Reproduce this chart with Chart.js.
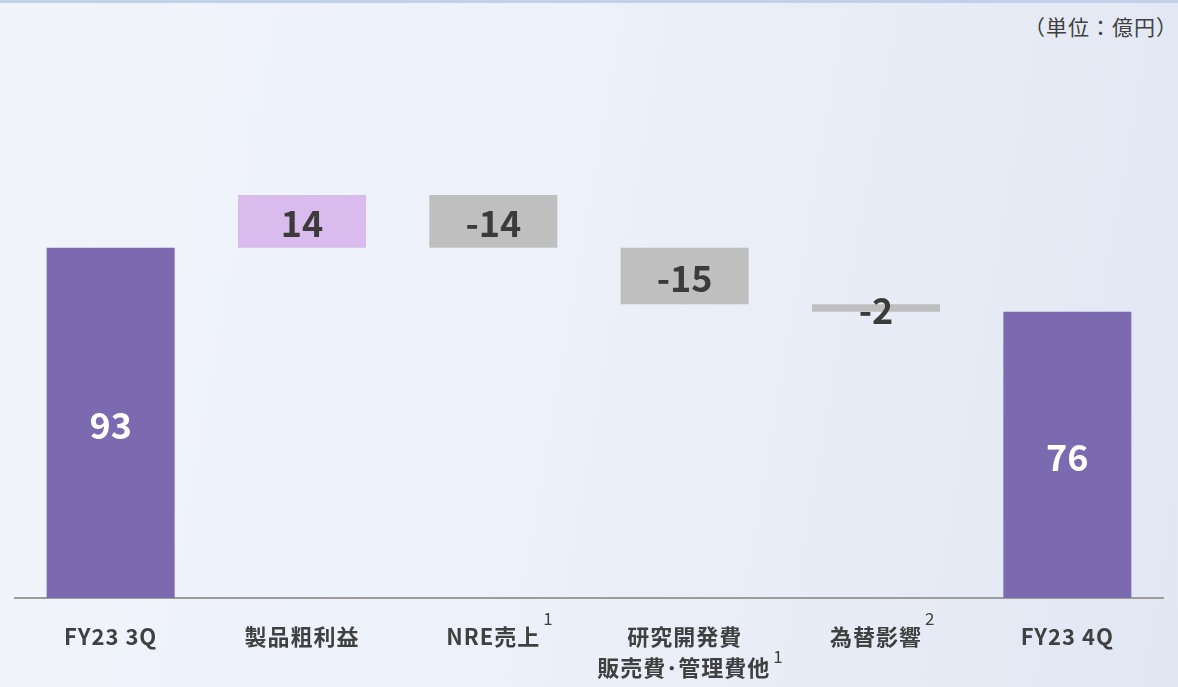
<!DOCTYPE html>
<html>
<head>
  <meta charset="utf-8">
  <title>営業利益 増減要因</title>
  <script src="https://cdn.jsdelivr.net/npm/chart.js"></script>
  <style>
    html, body { margin: 0; padding: 0; }
    body {
      width: 1178px; height: 687px; overflow: hidden; position: relative;
      background: linear-gradient(100deg, #f1f4fb 0%, #edf1f9 45%, #e1e7f3 100%);
      font-family: "Noto Sans CJK JP", "Noto Sans", sans-serif;
    }
    #topline { position: absolute; left: 0; top: 0; width: 100%; height: 3px; background: #c3d0ea; }
    #unit { position: absolute; right: 0px; top: 11px; font-size: 21px; color: #404040; letter-spacing: 1px; }
    #wrap { position: absolute; left: 0; top: 0; width: 1178px; height: 687px; }
  </style>
</head>
<body>
  <div id="topline"></div>
  <div id="unit">（単位：億円）</div>
  <div id="wrap"><canvas id="myChart"></canvas></div>
  <script>
    // data
    const categories = ['FY23 3Q', '製品粗利益', 'NRE売上', '研究開発費', '為替影響', 'FY23 4Q'];
    const secondLine = ['', '', '', '販売費･管理費他', '', ''];
    const footnotes = ['', '', '1', '', '2', ''];
    const footnotes2 = ['', '', '', '1', '', ''];
    const values = [93, 14, -14, -15, -2, 76];
    const isTotal = [true, false, false, false, false, true];

    // build floating ranges from the deltas
    let running = 0;
    const ranges = values.map((v, i) => {
      if (isTotal[i]) { running = v; return [0, v]; }
      const from = running;
      running += v;
      return [Math.min(from, running), Math.max(from, running)];
    });
    const colors = values.map((v, i) => isTotal[i] ? '#7b6aaf' : (v >= 0 ? '#d9bced' : '#bfbfbf'));

    const FONT = '"Noto Sans CJK JP", "Noto Sans", sans-serif';

    const valueLabels = {
      id: 'valueLabels',
      afterDatasetsDraw(chart) {
        const c = chart.ctx;
        const meta = chart.getDatasetMeta(0);
        c.save();
        c.font = 'bold 36px ' + FONT;
        c.textAlign = 'center';
        c.textBaseline = 'middle';
        meta.data.forEach((bar, i) => {
          c.fillStyle = isTotal[i] ? '#ffffff' : '#3b3b3b';
          const y = (bar.y + bar.base) / 2 + 2;
          c.fillText(String(values[i]), bar.x, y);
        });
        c.restore();
      }
    };

    const catLabels = {
      id: 'catLabels',
      afterDraw(chart) {
        const c = chart.ctx;
        const xs = chart.scales.x;
        c.save();
        c.fillStyle = '#404040';
        c.textBaseline = 'middle';
        categories.forEach((lab, i) => {
          const x = xs.getPixelForValue(i);
          c.font = 'bold 22px ' + FONT;
          c.letterSpacing = '1px';
          c.textAlign = 'center';
          c.fillText(lab, x, 637);
          let w = c.measureText(lab).width;
          if (footnotes[i]) {
            c.font = '17px ' + FONT;
            c.letterSpacing = '0px';
            c.textAlign = 'left';
            c.fillText(footnotes[i], x + w / 2 + 3, 619);
          }
          if (secondLine[i]) {
            c.font = 'bold 22px ' + FONT;
            c.letterSpacing = '1px';
            c.textAlign = 'center';
            c.fillText(secondLine[i], x - 1, 668);
            w = c.measureText(secondLine[i]).width;
            if (footnotes2[i]) {
              c.font = '17px ' + FONT;
              c.letterSpacing = '0px';
              c.textAlign = 'left';
              c.fillText(footnotes2[i], x - 1 + w / 2 + 3, 657);
            }
          }
        });
        c.restore();
      }
    };

    const ctx = document.getElementById('myChart').getContext('2d');
    const myChart = new Chart(ctx, {
      type: 'bar',
      data: {
        labels: categories,
        datasets: [{
          data: ranges,
          backgroundColor: colors,
          borderWidth: 0,
          barPercentage: 0.669,
          categoryPercentage: 1.0
        }]
      },
      options: {
        responsive: true,
        maintainAspectRatio: false,
        animation: false,
        layout: { padding: { top: 146, left: 15, right: 15, bottom: 0 } },
        plugins: { legend: { display: false }, tooltip: { enabled: false } },
        scales: {
          x: {
            grid: { display: false },
            border: { color: '#9c9c9c', width: 2 },
            ticks: { display: false },
            afterFit(scale) { scale.height = 89; }
          },
          y: { display: false, min: 0, max: 120 }
        }
      },
      plugins: [valueLabels, catLabels]
    });
  </script>
</body>
</html>
